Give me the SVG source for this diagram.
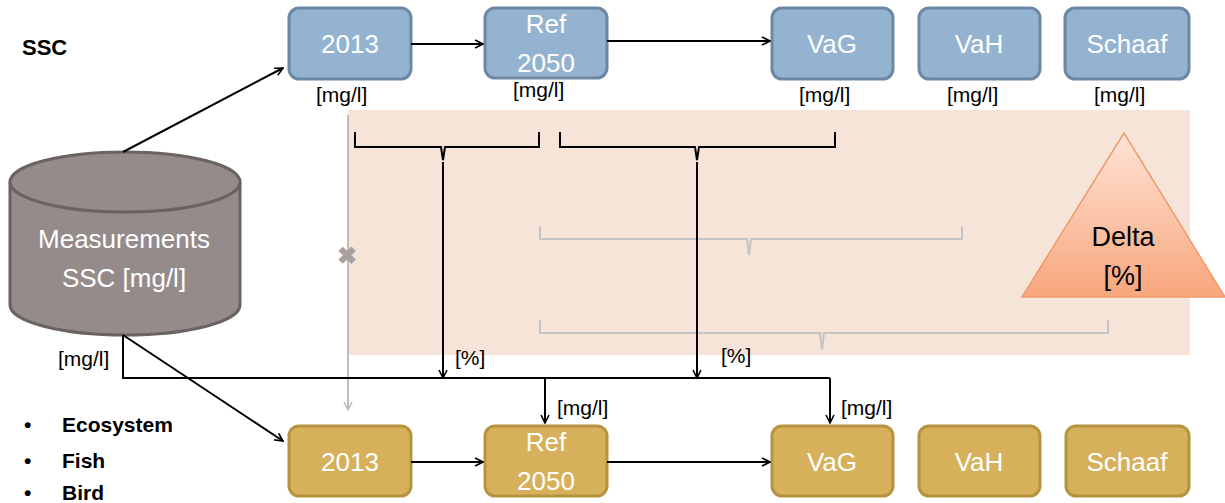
<svg xmlns="http://www.w3.org/2000/svg" width="1225" height="503" viewBox="0 0 1225 503">
  <defs>
    <marker id="arr" viewBox="0 0 10 10" refX="9" refY="5" markerWidth="10" markerHeight="10" markerUnits="userSpaceOnUse" orient="auto">
      <path d="M1,1 L9,5 L1,9" fill="none" stroke="#000" stroke-width="1.6"/>
    </marker>
    <marker id="arrGray" viewBox="0 0 10 10" refX="9" refY="5" markerWidth="10" markerHeight="10" markerUnits="userSpaceOnUse" orient="auto">
      <path d="M1,1 L9,5 L1,9" fill="none" stroke="#bdbdbd" stroke-width="1.6"/>
    </marker>
    <linearGradient id="deltaGrad" x1="0" y1="0" x2="0" y2="1">
      <stop offset="0" stop-color="#fde3d6"/>
      <stop offset="1" stop-color="#f8a67c"/>
    </linearGradient>
  </defs>
  <style>
    text { font-family: "Liberation Sans", Arial, sans-serif; }
    .blue rect { fill: #94b3d1; stroke: #6c88a5; stroke-width: 3; }
    .gold rect { fill: #d7b05b; stroke: #b7933f; stroke-width: 3; }
    .lbl { fill: #fff; font-size: 26px; text-anchor: middle; }
    .unit { fill: #000; font-size: 21px; }
    .conn { fill: none; stroke: #000; stroke-width: 2; }
    .brace { fill: none; stroke: #000; stroke-width: 2; }
    .gbrace { fill: none; stroke: #c4c4c4; stroke-width: 2; }
    .head { fill: #000; font-size: 22px; font-weight: bold; }
    .bul { fill: #000; font-size: 21px; font-weight: bold; }
  </style>

  <rect id="delta-zone" x="348" y="110" width="842" height="245" fill="#f6e4d9"/>

  <text class="head" x="22" y="55">SSC</text>

  <!-- upper row: SSC scenarios -->
  <g id="ssc-2013" class="blue"><rect x="289" y="8" width="122" height="71" rx="10"/><text class="lbl" x="350" y="53">2013</text><text class="unit" x="316" y="102">[mg/l]</text></g>
  <g id="ssc-ref2050" class="blue"><rect x="485" y="8" width="122" height="70" rx="10"/><text class="lbl" x="546" y="33">Ref</text><text class="lbl" x="546" y="72">2050</text><text class="unit" x="513" y="97">[mg/l]</text></g>
  <g id="ssc-vag" class="blue"><rect x="772" y="8" width="121" height="71" rx="10"/><text class="lbl" x="832" y="53">VaG</text><text class="unit" x="799" y="102">[mg/l]</text></g>
  <g id="ssc-vah" class="blue"><rect x="919" y="8" width="121" height="71" rx="10"/><text class="lbl" x="979" y="53">VaH</text><text class="unit" x="947" y="102">[mg/l]</text></g>
  <g id="ssc-schaaf" class="blue"><rect x="1065" y="8" width="124" height="71" rx="10"/><text class="lbl" x="1127" y="53">Schaaf</text><text class="unit" x="1094" y="102">[mg/l]</text></g>

  <!-- measurements store -->
  <g id="measurements">
    <path d="M10,182 L10,305 A115,30 0 0 0 240,305 L240,182 A115,30 0 0 0 10,182 Z" fill="#958b8b" stroke="#6b6262" stroke-width="3"/>
    <path d="M10,182 A115,30 0 0 0 240,182" fill="none" stroke="#6b6262" stroke-width="3"/>
    <text class="lbl" x="124" y="248" font-size="27">Measurements</text>
    <text class="lbl" x="124" y="287" font-size="27">SSC [mg/l]</text>
  </g>

  <!-- delta -->
  <g id="delta">
    <polygon points="1124,133 1022,297 1225,297" fill="url(#deltaGrad)" stroke="#f09a6c" stroke-width="1.5"/>
    <text x="1123" y="246" font-size="27" text-anchor="middle">Delta</text>
    <text x="1123" y="285" font-size="27" text-anchor="middle">[%]</text>
  </g>

  <!-- lower row: ecology scenarios -->
  <g id="eco-2013" class="gold"><rect x="289" y="426" width="122" height="70" rx="10"/><text class="lbl" x="350" y="471">2013</text></g>
  <g id="eco-ref2050" class="gold"><rect x="485" y="426" width="122" height="70" rx="10"/><text class="lbl" x="546" y="451">Ref</text><text class="lbl" x="546" y="490">2050</text></g>
  <g id="eco-vag" class="gold"><rect x="772" y="426" width="121" height="70" rx="10"/><text class="lbl" x="832" y="471">VaG</text></g>
  <g id="eco-vah" class="gold"><rect x="919" y="426" width="121" height="70" rx="10"/><text class="lbl" x="979" y="471">VaH</text></g>
  <g id="eco-schaaf" class="gold"><rect x="1066" y="426" width="123" height="70" rx="10"/><text class="lbl" x="1127" y="471">Schaaf</text></g>

  <g id="legend">
    <text class="bul" x="24" y="432">•</text><text class="bul" x="62" y="432">Ecosystem</text>
    <text class="bul" x="24" y="468">•</text><text class="bul" x="62" y="468">Fish</text>
    <text class="bul" x="24" y="500">•</text><text class="bul" x="62" y="500">Bird</text>
  </g>

  <g id="connectors">
    <!-- scenario chains -->
    <line class="conn" x1="411" y1="44" x2="483" y2="44" marker-end="url(#arr)"/>
    <line class="conn" x1="607" y1="41" x2="770" y2="41" marker-end="url(#arr)"/>
    <line class="conn" x1="411" y1="462" x2="483" y2="462" marker-end="url(#arr)"/>
    <line class="conn" x1="607" y1="462" x2="770" y2="462" marker-end="url(#arr)"/>
    <!-- measurements to both rows -->
    <line class="conn" x1="123" y1="152" x2="283" y2="68" marker-end="url(#arr)"/>
    <line class="conn" x1="123" y1="335" x2="283" y2="441" marker-end="url(#arr)"/>
    <!-- direct path, crossed out -->
    <line x1="348" y1="115" x2="348" y2="410" stroke="#bdbdbd" stroke-width="2" marker-end="url(#arrGray)"/>
    <text x="347" y="264" font-size="24" font-weight="bold" fill="#a9a09f" text-anchor="middle">✖</text>
    <!-- black braces over differences -->
    <path class="brace" d="M355,132 L355,147 L441,147 L443,160 L445,147 L539,147 L539,132"/>
    <path class="brace" d="M560,132 L560,147 L695,147 L697,160 L699,147 L835,147 L835,132"/>
    <!-- gray braces -->
    <path class="gbrace" d="M540,226 L540,239 L747,239 L749,255 L751,239 L962,239 L962,226"/>
    <path class="gbrace" d="M540,320 L540,333 L820,333 L822,350 L824,333 L1108,333 L1108,320"/>
    <!-- delta arrows down to the bus -->
    <line class="conn" x1="443" y1="162" x2="443" y2="378" marker-end="url(#arr)"/>
    <line class="conn" x1="697" y1="162" x2="697" y2="378" marker-end="url(#arr)"/>
    <text class="unit" x="455" y="365">[%]</text>
    <text class="unit" x="721" y="363">[%]</text>
    <!-- measurement bus -->
    <polyline class="conn" points="123,335 123,378 830,378"/>
    <text class="unit" x="58" y="366">[mg/l]</text>
    <line class="conn" x1="545" y1="378" x2="545" y2="423" marker-end="url(#arr)"/>
    <line class="conn" x1="830" y1="378" x2="830" y2="423" marker-end="url(#arr)"/>
    <text class="unit" x="557" y="415">[mg/l]</text>
    <text class="unit" x="841" y="415">[mg/l]</text>
  </g>
</svg>
